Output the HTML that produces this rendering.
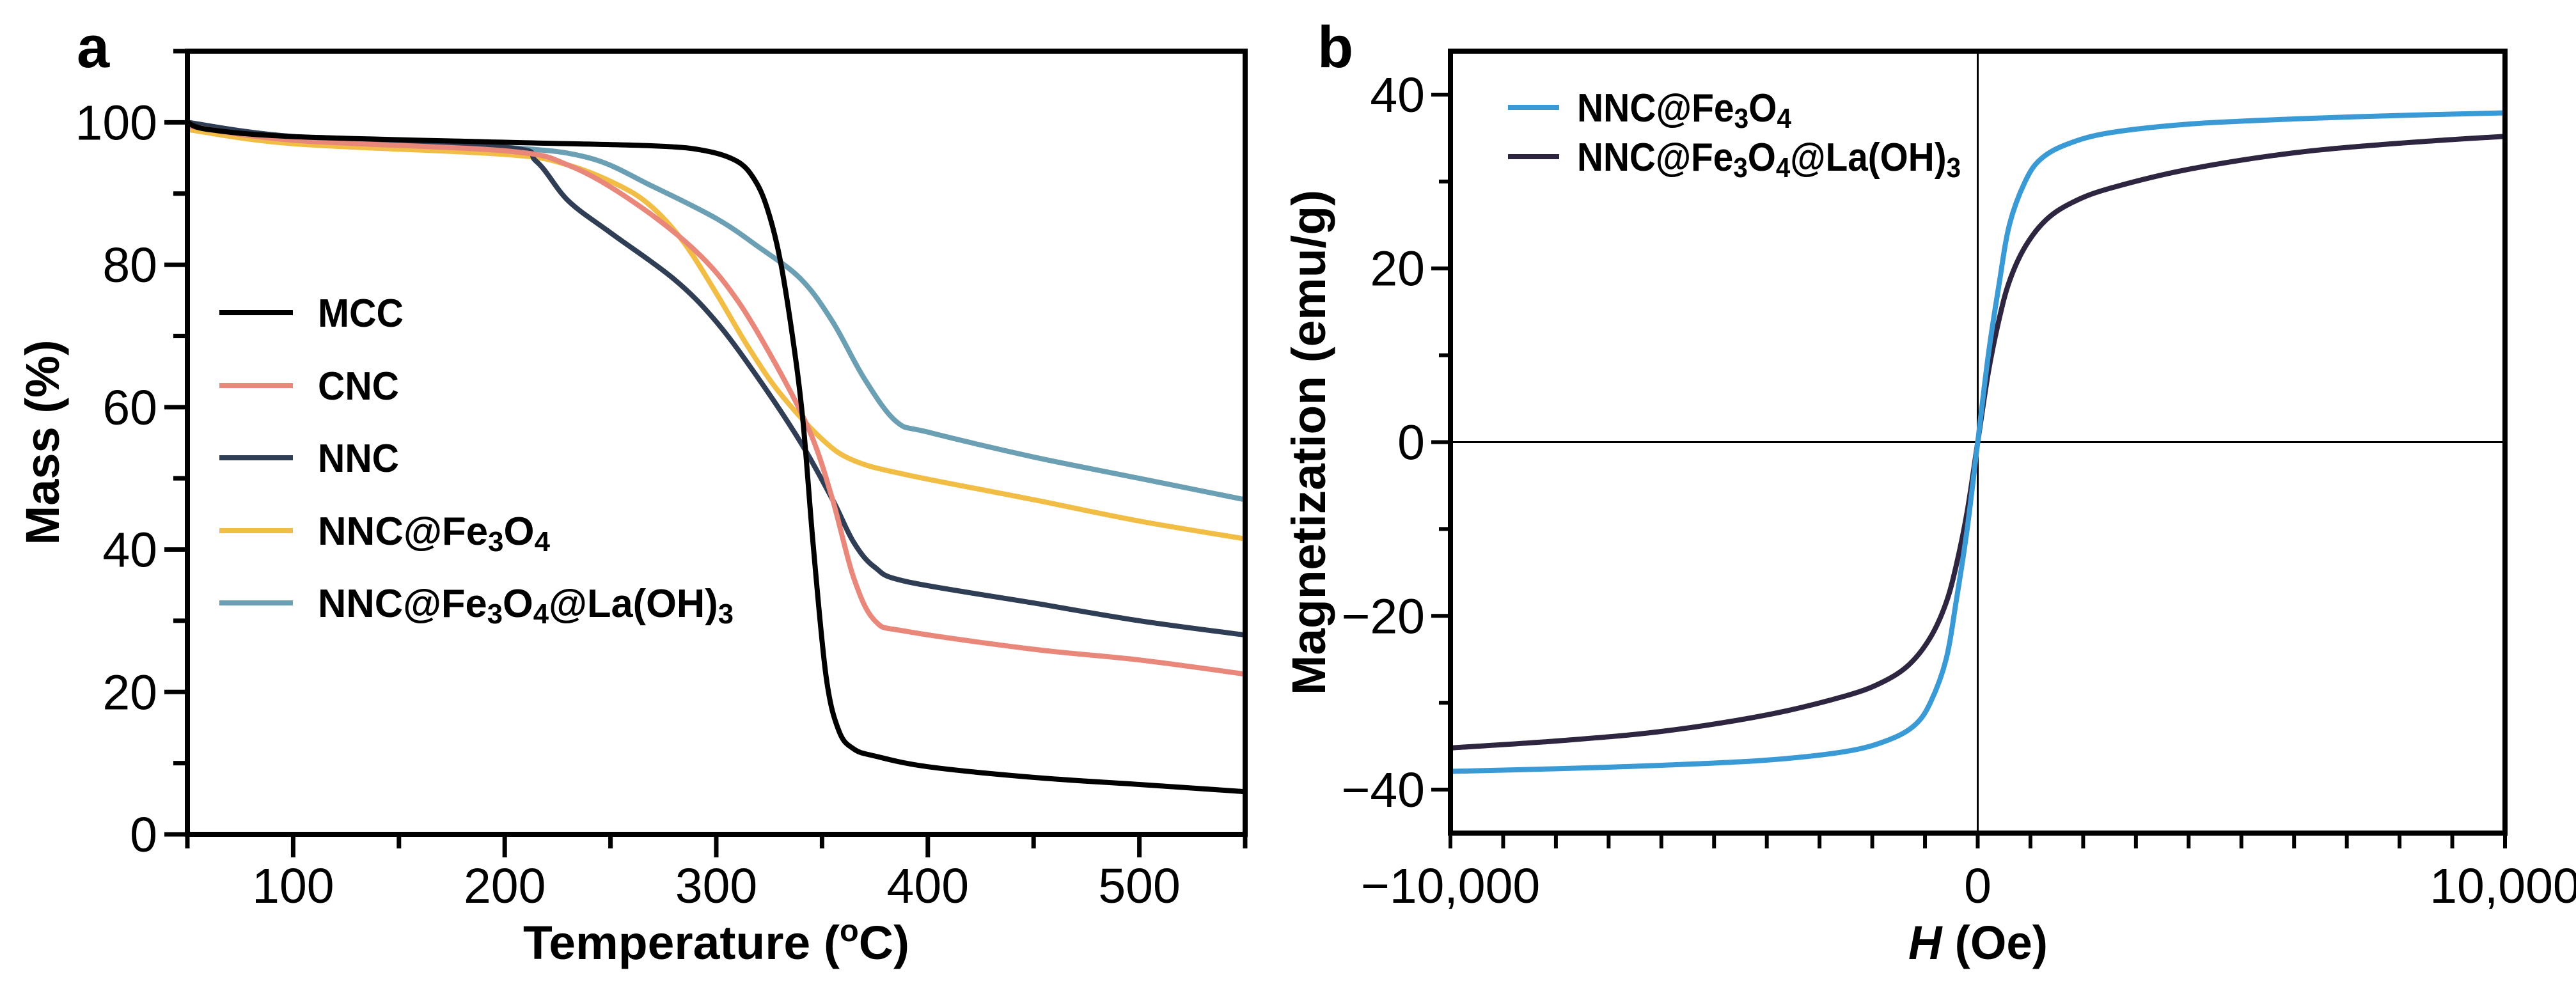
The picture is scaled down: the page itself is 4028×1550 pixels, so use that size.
<!DOCTYPE html>
<html><head><meta charset="utf-8"><style>
html,body{margin:0;padding:0;background:#fff;}
svg{display:block;font-family:"Liberation Sans",sans-serif;}
</style></head><body>
<svg id="fig" width="4028" height="1550" viewBox="0 0 4028 1550" xmlns="http://www.w3.org/2000/svg"></svg>
<script>
// ---- Panel a data (TGA) ----
const tgaMccT  = [50,60,100,200,270,295,310,318,324,330,336,341,346,352,358,365,375,400,450,500,550];
const tgaMccM  = [100,99,98,97.2,96.7,96,94.5,92,88,81,70,58,40,22,14.5,12,11,9.5,8,7,6];
const tgaCncT  = [50,100,200,230,260,290,310,330,345,355,365,375,390,450,500,550];
const tgaCncM  = [99.5,97.5,96,94,89,82,75,65,56,47,36,30,28.5,26,24.5,22.5];
const tgaNncT  = [50,100,200,215,230,250,280,300,320,340,355,365,375,390,450,500,550];
const tgaNncM  = [100,98,96.5,94.5,89,84.5,78,72,64,55,47,41,37.5,35.5,32.5,30,28];
const tgaFeT   = [50,100,200,230,255,270,285,300,315,330,350,365,390,450,500,550];
const tgaFeM   = [99,97,95.5,94,91,88,83,76,68.5,62,55.5,52.5,50.5,47,44,41.5];
const tgaLaT   = [50,100,200,240,270,300,320,340,355,370,385,400,450,500,550];
const tgaLaM   = [100,98,96.5,95,91,86.5,82.5,78,72,64,58,56.5,53,50,47];
const aXTicks  = [100,200,300,400,500];
const aYTicks  = [0,20,40,60,80,100];
// ---- Panel b data (VSM) ----
const vsmH     = [-10000,-8000,-6000,-4000,-2500,-1700,-1200,-900,-600,-400,-200,0,200,400,600,900,1200,1700,2500,4000,6000,8000,10000];
const vsmFeM   = [-37.9,-37.6,-37.2,-36.6,-35.6,-34.3,-32.6,-30,-25,-18,-10,0,10,18,25,30,32.6,34.3,35.6,36.6,37.2,37.6,37.9];
const vsmH2    = [-10000,-8000,-6000,-4000,-2500,-1800,-1300,-900,-600,-400,-200,0,200,400,600,900,1300,1800,2500,4000,6000,8000,10000];
const vsmLaM   = [-35.2,-34.4,-33.3,-31.4,-29.2,-27.6,-25.6,-22.5,-18.5,-14,-8,0,8,14,18.5,22.5,25.6,27.6,29.2,31.4,33.3,34.4,35.2];
const bXTicks  = [-10000,0,10000];
const bXLabels = ["\u221210,000","0","10,000"];
const bYTicks  = [-40,-20,0,20,40];
const bYLabels = ["\u221240","\u221220","0","20","40"];

const NS="http://www.w3.org/2000/svg";
const svg=document.getElementById('fig');
function mk(tag,attrs,parent){const e=document.createElementNS(NS,tag);for(const k in attrs)e.setAttribute(k,attrs[k]);(parent||svg).appendChild(e);return e;}
function smooth(pts){
  let d=`M${pts[0][0].toFixed(1)},${pts[0][1].toFixed(1)}`;
  for(let i=0;i<pts.length-1;i++){
    const p0=pts[Math.max(0,i-1)],p1=pts[i],p2=pts[i+1],p3=pts[Math.min(pts.length-1,i+2)];
    const t=6;
    const c1=[p1[0]+(p2[0]-p0[0])/t,p1[1]+(p2[1]-p0[1])/t];
    const c2=[p2[0]-(p3[0]-p1[0])/t,p2[1]-(p3[1]-p1[1])/t];
    d+=` C${c1[0].toFixed(1)},${c1[1].toFixed(1)} ${c2[0].toFixed(1)},${c2[1].toFixed(1)} ${p2[0].toFixed(1)},${p2[1].toFixed(1)}`;
  }
  return d;
}
// ---------- Panel a ----------
const aL=293,aR=1947,aT=80,aB=1305;
const ax=v=>aL+(v-50)/(550-50)*(aR-aL);
const ay=v=>aB-(v-0)/(110-0)*(aB-aT);
const gA=mk('g',{});


const series=[[tgaMccT,tgaMccM,'#000000','mcc'],[tgaCncT,tgaCncM,'#e8877a','cnc'],[tgaNncT,tgaNncM,'#2f3d55','nnc'],[tgaFeT,tgaFeM,'#f1bd45','nnc-fe3o4'],[tgaLaT,tgaLaM,'#6b9fb4','nnc-fe3o4-la-oh3']];
[4,3,2,1,0].forEach(i=>{
  const s=series[i];
  const pts=s[0].map((t,j)=>[ax(t),ay(s[1][j])]);
  const p=mk('path',{d:smooth(pts),fill:'none',stroke:s[2],'stroke-width':8,'stroke-linejoin':'round'},gA);
  
  
});
const fa=mk('rect',{x:aL,y:aT,width:aR-aL,height:aB-aT,fill:'none',stroke:'#000','stroke-width':8},gA);


for(let v=50;v<=550;v+=50){
  const maj=v%100===0;
  const t=mk('line',{x1:ax(v),x2:ax(v),y1:aB,y2:aB+(maj?36:22),stroke:'#000','stroke-width':7},gA);
  
  
}
aXTicks.forEach(v=>{
  const t=mk('text',{x:ax(v),y:1412,'font-size':77,'text-anchor':'middle'},gA);t.textContent=v;
  
  
});
for(let v=0;v<=110;v+=10){
  const maj=v%20===0;
  const t=mk('line',{x1:aL,x2:aL-(maj?36:22),y1:ay(v),y2:ay(v),stroke:'#000','stroke-width':7},gA);
  
  
}
aYTicks.forEach(v=>{
  const t=mk('text',{x:246,y:ay(v)+27,'font-size':77,'text-anchor':'end'},gA);t.textContent=v;
  
  
});
</script>
<script>
(function(){
const svg=document.getElementById('fig');
svg.insertAdjacentHTML('beforeend',`
<text x="120" y="105" font-size="92" font-weight="bold">a</text>
<text x="1120" y="1500" font-size="74" font-weight="bold" text-anchor="middle" textLength="604" lengthAdjust="spacingAndGlyphs">Temperature (<tspan font-size="48" dy="-28">o</tspan><tspan dy="28">C)</tspan></text>
<text transform="translate(92,692) rotate(-90)" font-size="74" font-weight="bold" text-anchor="middle" textLength="321" lengthAdjust="spacingAndGlyphs">Mass (%)</text>
<g font-weight="bold" font-size="62">
 <g><line x1="343" x2="458" y1="489" y2="489" stroke="#000" stroke-width="8"/><text x="497" y="511" textLength="134" lengthAdjust="spacingAndGlyphs">MCC</text></g>
 <g><line x1="343" x2="458" y1="603" y2="603" stroke="#e8877a" stroke-width="8"/><text x="497" y="625" textLength="127" lengthAdjust="spacingAndGlyphs">CNC</text></g>
 <g><line x1="343" x2="458" y1="716" y2="716" stroke="#2f3d55" stroke-width="8"/><text x="497" y="738" textLength="127" lengthAdjust="spacingAndGlyphs">NNC</text></g>
 <g><line x1="343" x2="458" y1="830" y2="830" stroke="#f1bd45" stroke-width="8"/><text x="497" y="852" textLength="363" lengthAdjust="spacingAndGlyphs">NNC@Fe<tspan font-size="44" dy="10">3</tspan><tspan dy="-10">O</tspan><tspan font-size="44" dy="10">4</tspan></text></g>
 <g><line x1="343" x2="458" y1="943" y2="943" stroke="#6b9fb4" stroke-width="8"/><text x="497" y="965" textLength="650" lengthAdjust="spacingAndGlyphs">NNC@Fe<tspan font-size="44" dy="10">3</tspan><tspan dy="-10">O</tspan><tspan font-size="44" dy="10">4</tspan><tspan dy="-10">@La(OH)</tspan><tspan font-size="44" dy="10">3</tspan></text></g>
</g>`);
})();
</script>
<script>
(function(){
const NS="http://www.w3.org/2000/svg";const svg=document.getElementById('fig');
function mk(tag,attrs,parent){const e=document.createElementNS(NS,tag);for(const k in attrs)e.setAttribute(k,attrs[k]);(parent||svg).appendChild(e);return e;}
const bL=2268,bR=3917,bT=80,bB=1303;
const bx=v=>bL+(v+10000)/20000*(bR-bL);
const by=v=>bB-(v+45)/90*(bB-bT);
const g=mk('g',{});


const z1=mk('line',{x1:bx(0),x2:bx(0),y1:bT,y2:bB,stroke:'#000','stroke-width':3},g);


const z2=mk('line',{x1:bL,x2:bR,y1:by(0),y2:by(0),stroke:'#000','stroke-width':3},g);


const ser=[[vsmH2,vsmLaM,'#2e2640','nnc-fe3o4-la-oh3'],[vsmH,vsmFeM,'#3a9ad6','nnc-fe3o4']];
ser.forEach(s=>{
  const pts=s[0].map((h,j)=>[bx(h),by(s[1][j])]);
  const p=mk('path',{d:smooth(pts),fill:'none',stroke:s[2],'stroke-width':8,'stroke-linejoin':'round'},g);
  
  
});
const fb=mk('rect',{x:bL,y:bT,width:bR-bL,height:bB-bT,fill:'none',stroke:'#000','stroke-width':8},g);


for(let v=-10000;v<=10000;v+=1000){
  const t=mk('line',{x1:bx(v),x2:bx(v),y1:bB,y2:bB+24,stroke:'#000','stroke-width':6},g);
  
  
}
bXTicks.forEach((v,i)=>{
  const t=mk('text',{x:bx(v),y:1412,'font-size':77,'text-anchor':'middle'},g);t.textContent=bXLabels[i];
  
  
});
for(let v=-40;v<=40;v+=10){
  const t=mk('line',{x1:bL,x2:bL-(v%20===0?30:18),y1:by(v),y2:by(v),stroke:'#000','stroke-width':6},g);
  
  
}
bYTicks.forEach((v,i)=>{
  const t=mk('text',{x:2228,y:by(v)+27,'font-size':77,'text-anchor':'end'},g);t.textContent=bYLabels[i];
  
  
});
svg.insertAdjacentHTML('beforeend',`
<text x="2060" y="105" font-size="92" font-weight="bold">b</text>
<text x="3093" y="1500" font-size="74" font-weight="bold" text-anchor="middle" textLength="218" lengthAdjust="spacingAndGlyphs"><tspan font-style="italic">H</tspan> (Oe)</text>
<text transform="translate(2072,692) rotate(-90)" font-size="74" font-weight="bold" text-anchor="middle" textLength="790" lengthAdjust="spacingAndGlyphs">Magnetization (emu/g)</text>
<g font-weight="bold" font-size="62">
 <g><line x1="2358" x2="2438" y1="168" y2="168" stroke="#3a9ad6" stroke-width="8"/><text x="2466" y="190" textLength="335" lengthAdjust="spacingAndGlyphs">NNC@Fe<tspan font-size="44" dy="10">3</tspan><tspan dy="-10">O</tspan><tspan font-size="44" dy="10">4</tspan></text></g>
 <g><line x1="2358" x2="2438" y1="245" y2="245" stroke="#2e2640" stroke-width="8"/><text x="2466" y="267" textLength="600" lengthAdjust="spacingAndGlyphs">NNC@Fe<tspan font-size="44" dy="10">3</tspan><tspan dy="-10">O</tspan><tspan font-size="44" dy="10">4</tspan><tspan dy="-10">@La(OH)</tspan><tspan font-size="44" dy="10">3</tspan></text></g>
</g>`);
})();
</script>
</body></html>
